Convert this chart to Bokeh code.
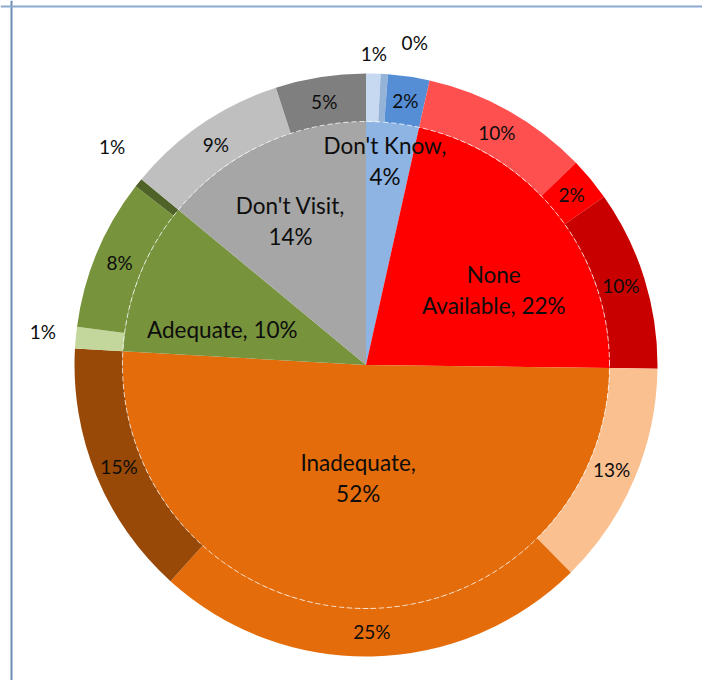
import numpy as np
from bokeh.plotting import figure
from bokeh.models import Range1d, Span, ColumnDataSource
from bokeh.core.properties import value
from bokeh.embed import file_html
from bokeh.resources import INLINE

# ---------------- data ----------------
inner_categories = ["Don't Know", "None Available", "Inadequate", "Adequate", "Don't Visit"]
inner_values = [3.5, 21.7, 50.7, 10.1, 14.0]
inner_labels = ["Don't Know,\n4%", "None\nAvailable, 22%", "Inadequate,\n52%", "Adequate, 10%", "Don't Visit,\n14%"]

outer_values = [0.8, 0.4, 2.3, 9.3, 2.4, 10.0, 12.4, 24.1, 14.2, 1.2, 8.4, 0.5, 9.0, 5.0]
outer_labels = ["1%", "0%", "2%", "10%", "2%", "10%", "13%", "25%", "15%", "1%", "8%", "1%", "9%", "5%"]

# ---------------- styles / layout ----------------
inner_colors = ["#8eb4e3", "#ff0000", "#e46c0a", "#77933c", "#a6a6a6"]
outer_colors = ["#c6d9f1", "#95b3d7", "#558ed5",
                "#ff5050", "#ff0000", "#c80000",
                "#fac090", "#e46c0a", "#984807",
                "#c3d69b", "#77933c", "#4f6228",
                "#bfbfbf", "#7f7f7f"]

inner_label_radius = [205, 148, 113, 148, 163]
inner_label_nudge = [-1, 8, 2, -7.6, -2.4]          # degrees
outer_label_radius = [312, 326, 267, 267, 267, 267, 267, 267, 267, 325, 267, 335, 267, 267]
outer_label_nudge = [0, 5, 0, 0, 0, 0, 0, 0, 0, 0.6, 0, 2, 0, 0]

W, H = 702, 680
CX, CY = 365.5, H - 364.5
R_IN, R_OUT = 243.5, 291.5
FONT = "Lato"
TEXT_COLOR = "#0d0d0d"


def angles(vals):
    v = np.asarray(vals, dtype=float)
    cum = np.concatenate([[0.0], np.cumsum(v)]) / v.sum() * 2 * np.pi
    th0, th1 = cum[:-1], cum[1:]
    return th0, th1, (th0 + th1) / 2


p = figure(width=W, height=H, output_backend="svg", toolbar_location=None,
           x_range=Range1d(0, W), y_range=Range1d(0, H),
           min_border=0, outline_line_color=None,
           background_fill_color="white", border_fill_color="white")
p.xaxis.visible = False
p.yaxis.visible = False
p.grid.visible = False

# inner pie
t0, t1, tm = angles(inner_values)
inner_src = ColumnDataSource(dict(
    cat=inner_categories, start=np.pi / 2 - t0, end=np.pi / 2 - t1, color=inner_colors))
p.wedge(x=CX, y=CY, radius=R_IN, start_angle="start", end_angle="end", direction="clock",
        fill_color="color", line_color=None, source=inner_src)

# outer ring
o0, o1, om = angles(outer_values)
outer_src = ColumnDataSource(dict(
    start=np.pi / 2 - o0, end=np.pi / 2 - o1, color=outer_colors))
p.annular_wedge(x=CX, y=CY, inner_radius=R_IN, outer_radius=R_OUT,
                start_angle="start", end_angle="end", direction="clock",
                fill_color="color", line_color=None, source=outer_src)

# dashed edge of the inner pie
p.arc(x=CX, y=CY, radius=R_IN, start_angle=0, end_angle=2 * np.pi,
      line_color="white", line_width=1, line_dash="5 3", line_alpha=0.75)

# labels
ith = tm + np.radians(inner_label_nudge)
ir = np.asarray(inner_label_radius, dtype=float)
p.text(x=CX + ir * np.sin(ith), y=CY + ir * np.cos(ith), text=inner_labels,
       text_align="center", text_baseline="middle", text_font=value(FONT),
       text_font_size="22.5px", text_color=TEXT_COLOR, text_line_height=1.15)

oth = om + np.radians(outer_label_nudge)
orr = np.asarray(outer_label_radius, dtype=float)
p.text(x=CX + orr * np.sin(oth), y=CY + orr * np.cos(oth), text=outer_labels,
       text_align="center", text_baseline="middle", text_font=value(FONT),
       text_font_size="19px", text_color=TEXT_COLOR)

# chart-area frame (left and top edges)
p.add_layout(Span(location=11, dimension="height", line_color="#6f8db4", line_width=2))
p.add_layout(Span(location=H - 6, dimension="width", line_color="#8ca9cf", line_width=2))

open("out.html", "w").write(file_html(p, INLINE))
